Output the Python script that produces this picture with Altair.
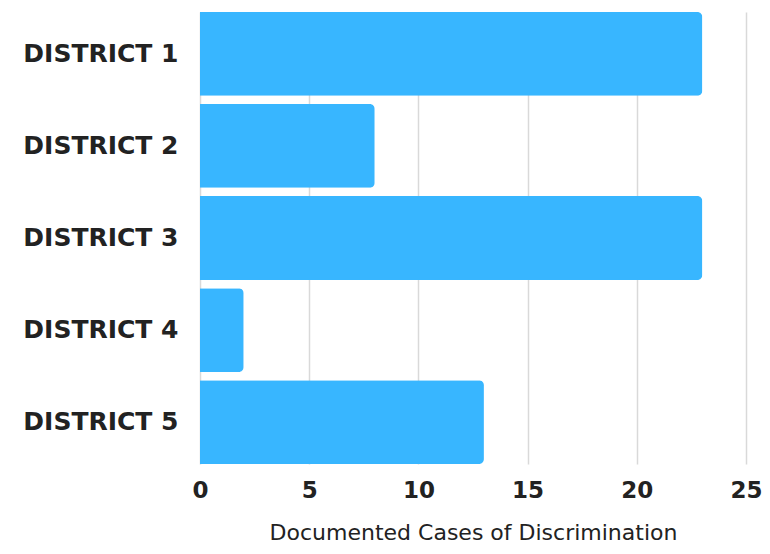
import altair as alt
import pandas as pd

districts = ["DISTRICT 1", "DISTRICT 2", "DISTRICT 3", "DISTRICT 4", "DISTRICT 5"]
cases = [23, 8, 23, 2, 13]

df = pd.DataFrame({"district": districts, "cases": cases})

FONT = "DejaVu Sans"

chart = alt.Chart(df).mark_bar(
    color="#38B6FF", cornerRadiusTopRight=5, cornerRadiusBottomRight=5
).encode(
    x=alt.X("cases:Q", title="Documented Cases of Discrimination",
            scale=alt.Scale(domain=[0, 25], nice=False),
            axis=alt.Axis(values=[0, 5, 10, 15, 20, 25], grid=True, gridColor="#d9d9d9",
                          gridWidth=1.5, domain=False, ticks=False, labelFlush=False,
                          labelFont=FONT, labelFontWeight="bold", labelFontSize=23,
                          labelColor="#222222", labelPadding=15,
                          titleFont=FONT, titleFontWeight="normal", titleFontSize=22,
                          titleColor="#222222", titlePadding=20)),
    y=alt.Y("district:N", sort=districts, title=None,
            scale=alt.Scale(paddingInner=0.09, paddingOuter=0),
            axis=alt.Axis(domain=False, ticks=False, labelFont=FONT,
                          labelFontWeight="bold", labelFontSize=25, labelColor="#222222",
                          labelPadding=22)),
).properties(
    width=546, height=452,
    padding={"left": 192, "top": 4, "right": 16, "bottom": 82},
    autosize=alt.AutoSizeParams(type="none"),
).configure_view(stroke=None)

chart.save("out.html", embed_options={"renderer": "svg", "actions": False})
